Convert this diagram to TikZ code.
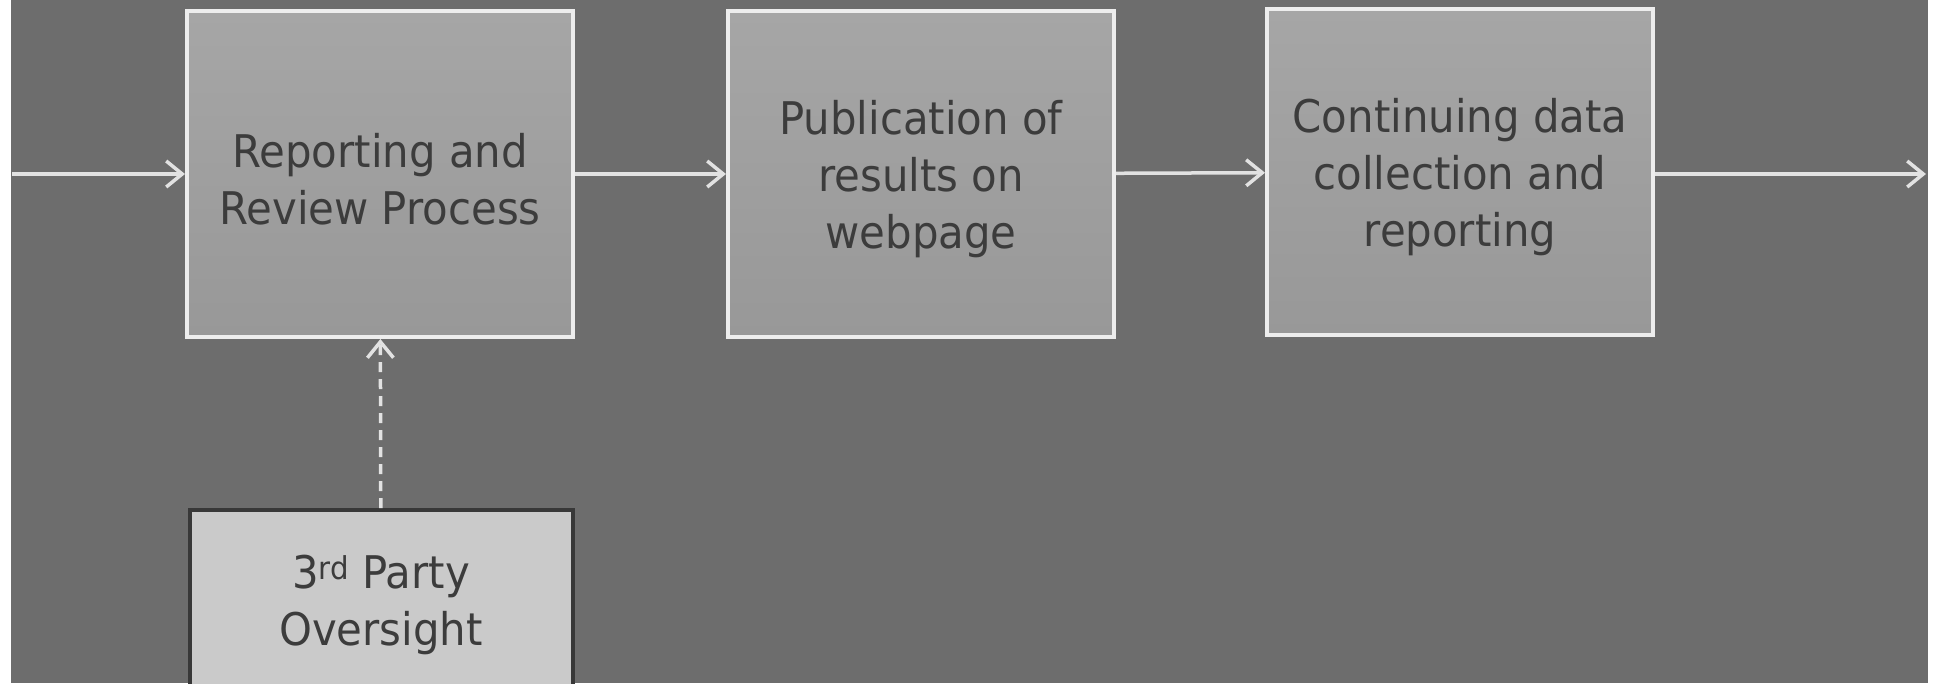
\documentclass[tikz,border=0pt]{standalone}
\usepackage{fontspec}
\setmainfont{DejaVu Sans}[FakeStretch=0.93]
\usetikzlibrary{arrows.meta}

\definecolor{slate}{HTML}{6D6D6D}
\definecolor{boxtop}{HTML}{A6A6A6}
\definecolor{boxbot}{HTML}{989898}
\definecolor{rim}{HTML}{EDEDED}
\definecolor{ink}{HTML}{3C3C3C}
\definecolor{shaft}{HTML}{E2E2E2}
\definecolor{paper}{HTML}{CACACA}
\definecolor{darkrim}{HTML}{383838}
\newcommand\stagestrut{\rule{0pt}{44pt}}

\begin{document}
\begin{tikzpicture}[x=1pt,y=-1pt,
	stage/.style={draw=rim,line width=4pt,top color=boxtop,bottom color=boxbot,
		minimum width=386pt,minimum height=326pt,inner sep=0pt,
		align=center,text=ink,font=\fontsize{45}{57}\selectfont},
	oversee/.style={stage,draw=darkrim,fill=paper,top color=paper,bottom color=paper,
		minimum width=383pt,minimum height=190pt},
	flow/.style={draw=shaft,line width=3.5pt,
		-{Straight Barb[length=16pt,width=26pt,line width=3.5pt]}}]
	      	\useasboundingbox (0,0) rectangle (1940,683);
	      	\clip (0,0) rectangle (1940,683);
	      	\fill[white] (0,0) rectangle (1940,683);
	      	\fill[slate] (11,0) rectangle (1928,683);
	      	% the three stages
	      	\node[stage] (Review)  at (380,174)  {\stagestrut Reporting and\\Review Process};
	      	\node[stage] (Publish) at (921,174)  {\stagestrut Publication of\\results on\\webpage};
	      	\node[stage] (Collect) at (1460,172) {\stagestrut Continuing data\\collection and\\reporting};
	      	\node[oversee] (Third) at (381,605) {3\textsuperscript{rd} Party\\Oversight};
	      	\coordinate (In)  at (12,174);
	      	\coordinate (Out) at (1926,174);
	      	% connectors
	      	\draw[flow] (In) -- (Review);
	      	\draw[flow] (Review) -- (Publish);
	      	\draw[flow] (Publish) -- (Collect);
	      	\draw[flow] (Collect.east |- Out) -- (Out);
	      	\draw[flow,dash pattern=on 10pt off 7pt] (Third) -- (Review);
	      \end{tikzpicture}
\end{document}
